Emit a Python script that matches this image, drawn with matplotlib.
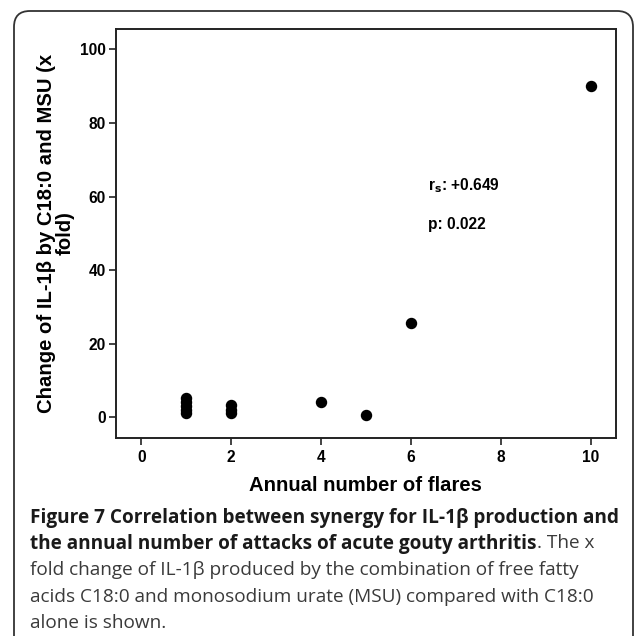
import matplotlib
matplotlib.use("Agg")
import matplotlib.pyplot as plt
from matplotlib.patches import FancyBboxPatch

# data
flares = [1, 1, 1, 1, 1, 2, 2, 2, 4, 5, 6, 10]
il1b_change = [1.2, 2.0, 3.0, 4.2, 5.3, 1.1, 2.0, 3.4, 4.2, 0.8, 25.7, 90.0]
x_ticks = [0, 2, 4, 6, 8, 10]
y_ticks = [0, 20, 40, 60, 80, 100]
rs_text = "r$_\\mathbf{s}$: +0.649"
p_text = "p: 0.022"

W, H = 635, 636
fig = plt.figure(figsize=(W / 100, H / 100), dpi=100)

# rounded frame around the whole figure
frame = FancyBboxPatch((14 / W, -0.05), (619 / W), 1 - 11 / H + 0.05,
                       boxstyle="round,pad=0,rounding_size=0.025",
                       transform=fig.transFigure, fill=False,
                       edgecolor="#333333", linewidth=1.3)
fig.patches.append(frame)

ax = fig.add_axes([115.7 / W, 1 - 437.7 / H, (616 - 115.7) / W, (437.7 - 28.7) / H])
ax.scatter(flares, il1b_change, s=52, color="black", zorder=3)
ax.set_xlim(-0.57, 10.56)
ax.set_ylim(-5.5, 105.6)
ax.set_xticks(x_ticks)
ax.set_yticks(y_ticks)

axis_font = "Liberation Sans"
for sp in ax.spines.values():
    sp.set_linewidth(1.4)
    sp.set_color("#222222")
ax.tick_params(direction="out", length=5, width=1.2, color="#222222", pad=2)
ax.tick_params(axis="x", pad=4)
for lab in ax.get_xticklabels() + ax.get_yticklabels():
    lab.set_fontfamily(axis_font)
    lab.set_fontweight("bold")
    lab.set_fontsize(11.2)
ax.set_xlabel("Annual number of flares", fontfamily=axis_font, fontweight="bold",
              fontsize=14.6, labelpad=8)
ax.set_ylabel("Change of IL-1β by C18:0 and MSU (x\nfold)", fontfamily=axis_font,
              fontweight="bold", fontsize=14.6, labelpad=4, linespacing=0.95)

ax.text(6.38, 63.1, rs_text, fontfamily=axis_font, fontweight="bold", fontsize=11.2, va="center")
ax.text(6.38, 52.3, p_text, fontfamily=axis_font, fontweight="bold", fontsize=11.2, va="center")

# caption: bold title then regular text, placed piece by piece
cap_font = "Open Sans"
cap_size = 13.7
bold_col = "#1a1a1a"
reg_col = "#3a3a3a"
x0 = 30.5 / W
baselines = [522.7, 548.5, 575, 601.5, 628]
lines = [
    [("Figure 7 Correlation between synergy for IL-1β production and", "bold")],
    [("the annual number of attacks of acute gouty arthritis", "bold"), (". The x", "normal")],
    [("fold change of IL-1β produced by the combination of free fatty", "normal")],
    [("acids C18:0 and monosodium urate (MSU) compared with C18:0", "normal")],
    [("alone is shown.", "normal")],
]
renderer = fig.canvas.get_renderer()
for base, parts in zip(baselines, lines):
    x = x0
    for txt, wt in parts:
        t = fig.text(x, 1 - base / H, txt, fontfamily=cap_font, fontsize=cap_size,
                     fontweight=wt, color=bold_col if wt == "bold" else reg_col,
                     va="baseline")
        bb = t.get_window_extent(renderer=renderer)
        x = bb.x1 / W

fig.savefig("out.png", dpi=100)
